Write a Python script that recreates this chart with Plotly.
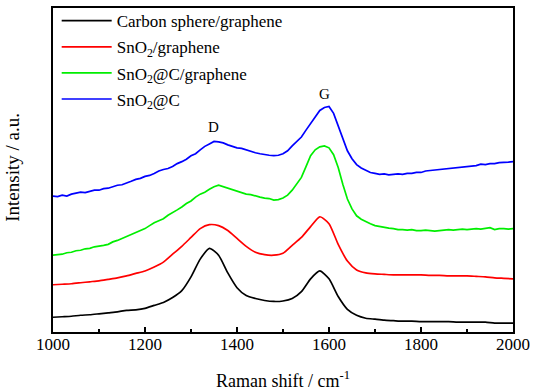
import plotly.graph_objects as go

raman_shift = list(range(1000, 2001, 20))
raman_shift_fine = list(range(1000, 2001, 10))

carbon_sphere_graphene = [15, 15.5, 16, 17, 17.5, 18.5, 19.5, 20.5, 22, 22.5,
                          24, 27, 30, 35, 42, 56, 74, 85, 78, 60,
                          45, 37, 34, 32, 31, 31.5, 34, 41, 54, 62,
                          54, 36, 23, 17, 14, 13, 12, 11.5, 11, 11,
                          10.5, 10.5, 10.5, 10.5, 10, 10, 10, 10, 9, 9, 9]

sno2_graphene = [48, 48.5, 49, 50, 51, 52, 53.5, 55, 57, 59.5,
                 62, 66, 71, 79, 87, 96, 105, 109, 108, 103,
                 95, 87, 81, 78.5, 78, 80, 88, 96, 107, 117,
                 110, 89, 72, 63, 60, 59, 58.5, 58, 58, 58,
                 58, 57.5, 57.5, 57, 57, 57, 56.5, 56, 55, 54.5, 54]

sno2_c_graphene = [78, 78.5, 79, 80.5, 81, 82.5, 83, 84.5, 85, 86.5,
                   87, 88, 89, 91.5, 93, 95, 97, 99.5, 101, 103.5,
                   105, 108, 111, 113, 115, 118.5, 121, 124, 127, 130.5,
                   133, 137, 140, 142, 145, 147.5, 149, 147.5, 146, 145,
                   143, 142, 140, 139.5, 138, 137, 136, 135.5, 134, 134.5,
                   136, 139, 144, 150, 157, 168, 179, 185, 188, 189,
                   187, 180, 167, 150, 135, 125, 118, 114.5, 112, 110,
                   108, 107, 106, 105.5, 105, 104, 104, 103.5, 104, 103,
                   103, 103.5, 103, 102.5, 103, 103.5, 104, 103.5, 104, 104.5,
                   104, 104.5, 105, 104.5, 105, 106, 104, 105, 105, 104.5, 105]

sno2_c = [138, 137.5, 139, 138, 140, 141, 142, 141.5, 143, 144,
          144, 145.5, 146, 147.5, 149, 149.5, 151, 153, 155, 156,
          158, 159, 161, 163.5, 165, 166, 168, 171, 173, 175.5,
          179, 181, 185, 188.5, 191, 193.5, 193, 192, 190, 188.5,
          187, 186.5, 185, 183, 182, 181, 180, 179.5, 179, 179.5,
          181, 184, 189, 193, 198, 205, 212, 219, 225, 228,
          229, 222, 210, 196, 184, 176, 170, 166.5, 164, 162,
          161, 160, 160.5, 159.5, 160, 160.5, 160, 161, 161, 162,
          162, 163.5, 164, 164.5, 165, 166, 166, 167, 167, 168,
          168, 169, 169, 170.5, 170, 171, 171, 172, 172, 172.5, 173]

series_names = ["Carbon sphere/graphene", "SnO<sub>2</sub>/graphene",
                "SnO<sub>2</sub>@C/graphene", "SnO<sub>2</sub>@C"]
series_colors = ["#000000", "#ff0000", "#00ee00", "#0000ff"]
series_x = [raman_shift, raman_shift, raman_shift_fine, raman_shift_fine]
series_values = [carbon_sphere_graphene, sno2_graphene, sno2_c_graphene, sno2_c]
series_shapes = ["spline", "spline", "linear", "linear"]

peak_labels = ["D", "G"]
peak_x = [1348, 1591]
peak_y = [208, 242]

fig = go.Figure()
for i, (name, color, xs, vals, shp) in enumerate(zip(series_names, series_colors,
                                                     series_x, series_values, series_shapes)):
    line = dict(color=color, width=1.7, shape=shp)
    if shp == "spline":
        line["smoothing"] = 0.6
    fig.add_trace(go.Scatter(x=xs, y=vals, mode="lines", name=name,
                             legendgroup="g%d" % i, line=line))

for lab, px, py in zip(peak_labels, peak_x, peak_y):
    fig.add_annotation(x=px, y=py, text=lab, showarrow=False,
                       font=dict(family="Liberation Serif", size=15, color="black"))

fig.add_annotation(xref="paper", yref="paper", x=0.5, y=-0.146,
                   xanchor="center", yanchor="middle",
                   text="Raman shift / cm<sup>-1</sup>", showarrow=False,
                   font=dict(family="Liberation Serif", size=18, color="black"))
fig.add_annotation(xref="paper", yref="paper", x=-0.087, y=0.51,
                   xanchor="center", yanchor="middle",
                   text="Intensity / a.u.", textangle=-90, showarrow=False,
                   font=dict(family="Liberation Serif", size=19, color="black"))

fig.update_layout(
    width=533, height=390,
    margin=dict(l=53, r=20, t=3, b=58),
    paper_bgcolor="white", plot_bgcolor="white",
    showlegend=True,
    legend=dict(x=0.008, y=1.015, xanchor="left", yanchor="top",
                bgcolor="rgba(0,0,0,0)", borderwidth=0,
                font=dict(family="Liberation Serif", size=17, color="black"),
                itemwidth=50, tracegroupgap=1),
    xaxis=dict(range=[1000, 2000], tickvals=[1000, 1200, 1400, 1600, 1800, 2000],
               ticks="inside", ticklen=5, tickwidth=1.5, tickcolor="black",
               ticklabelstandoff=-4,
               minor=dict(tickvals=[1100, 1300, 1500, 1700, 1900], ticks="inside",
                          ticklen=3, tickwidth=1.5, tickcolor="black"),
               showline=True, linecolor="black", linewidth=1.6, mirror=True,
               showgrid=False, zeroline=False,
               tickfont=dict(family="Liberation Serif", size=17, color="black")),
    yaxis=dict(range=[0, 329], showticklabels=False, ticks="",
               showline=True, linecolor="black", linewidth=1.6, mirror=True,
               showgrid=False, zeroline=False),
)

fig.write_html("out.html", config={"displayModeBar": False},
               post_script="document.body.style.margin='0';document.body.style.overflow='hidden';")
